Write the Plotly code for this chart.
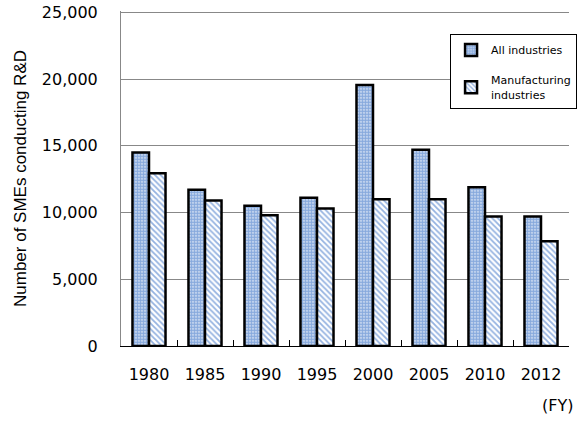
import plotly.graph_objects as go

years = ["1980", "1985", "1990", "1995", "2000", "2005", "2010", "2012"]
all_industries = [14500, 11700, 10500, 11100, 19550, 14700, 11900, 9700]
manufacturing = [12950, 10900, 9800, 10300, 11000, 11000, 9700, 7850]

tick_font = "'DejaVu Sans', sans-serif"
title_font = "'Liberation Sans', Arial, sans-serif"

fig = go.Figure()
fig.add_trace(go.Bar(
    x=years, y=all_industries, name="All industries",
    legendgroup="a",
    marker=dict(color="white",
                line=dict(color="black", width=2.5),
                pattern=dict(shape=".", fgcolor="#2a66c2", bgcolor="#e4ecf8",
                             size=3, solidity=0.75)),
))
fig.add_trace(go.Bar(
    x=years, y=manufacturing, name="Manufacturing<br>industries",
    legendgroup="b",
    marker=dict(color="white",
                line=dict(color="black", width=2.5),
                pattern=dict(shape="\\", fgcolor="#2a66c2", bgcolor="white",
                             size=4, solidity=0.45)),
))

fig.update_layout(
    width=586, height=425,
    margin=dict(l=121, r=17, t=11, b=79, autoexpand=False),
    plot_bgcolor="white", paper_bgcolor="white",
    barmode="group", bargap=0.41, bargroupgap=0,
    font=dict(family=tick_font, size=16, color="black"),
    showlegend=True,
    legend=dict(x=1.018, y=0.93, xanchor="right", yanchor="top",
                bgcolor="white", bordercolor="black", borderwidth=1,
                font=dict(family=tick_font, size=11),
                traceorder="grouped", tracegroupgap=12),
    xaxis=dict(type="category", showline=True, linecolor="black", linewidth=1,
               ticks="inside", tickson="boundaries", ticklen=6, tickcolor="black",
               ticklabelstandoff=14, showgrid=False, automargin=False,
               tickfont=dict(family=tick_font, size=16)),
    yaxis=dict(range=[0, 25100], tickvals=[0, 5000, 10000, 15000, 20000, 25000],
               tickformat=",d", ticklabeloverflow="allow",
               showline=True, linecolor="#888888", linewidth=1,
               showgrid=True, gridcolor="#888888", gridwidth=1,
               zeroline=False, ticks="", ticklabelstandoff=19, automargin=False,
               tickfont=dict(family=tick_font, size=16),
               title=dict(text="Number of SMEs conducting R&D",
                          font=dict(family=title_font, size=17), standoff=10)),
    annotations=[dict(text="(FY)", x=1.013, y=-0.177, xref="paper", yref="paper",
                      xanchor="right", yanchor="middle", showarrow=False,
                      font=dict(family=tick_font, size=16))],
)

fig.write_html("out.html", config={"displayModeBar": False},
               post_script="document.body.style.margin='0';")
